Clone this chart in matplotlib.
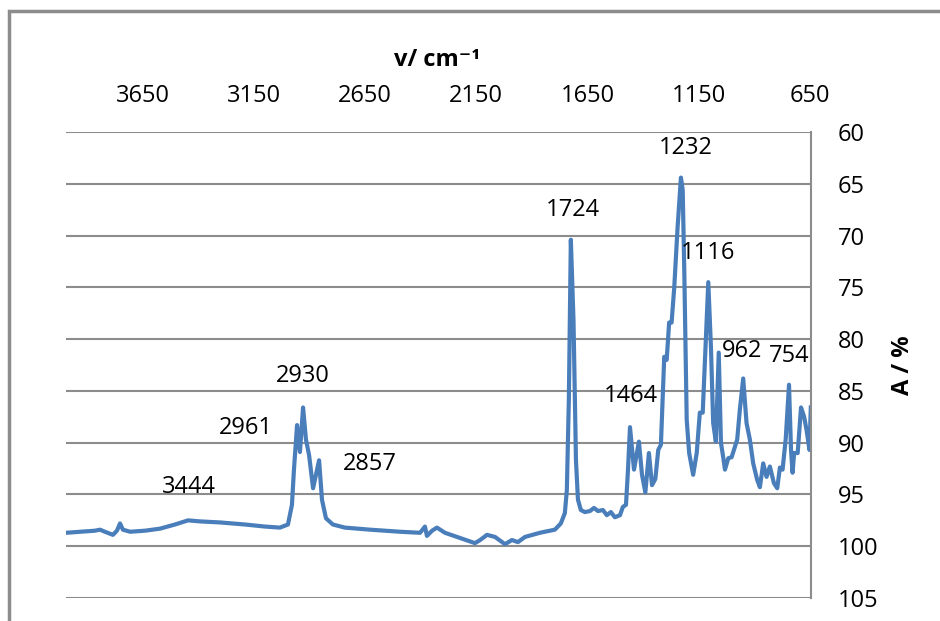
import matplotlib.pyplot as plt
from matplotlib.patches import Rectangle

plt.rcParams['font.family'] = ['Open Sans', 'DejaVu Sans']

# spectrum (wavenumber cm-1, A %)
wn = [3995, 3932, 3865, 3842, 3820, 3784, 3766, 3752, 3739, 3707,
      3640, 3572, 3505, 3446, 3393, 3303, 3190, 3100, 3033, 2997,
      2979, 2970, 2956, 2943, 2929, 2916, 2902, 2884, 2871, 2857,
      2844, 2826, 2795, 2741, 2628, 2493, 2403, 2381, 2372, 2349,
      2327, 2291, 2224, 2156, 2133, 2102, 2066, 2021, 1990, 1963,
      1931, 1864, 1797, 1770, 1752, 1743, 1734, 1725, 1713, 1702,
      1693, 1680, 1662, 1639, 1621, 1603, 1581, 1563, 1545, 1527,
      1504, 1491, 1477, 1468, 1459, 1441, 1419, 1405, 1390, 1374,
      1360, 1345, 1332, 1320, 1305, 1294, 1283, 1272, 1260, 1245,
      1230, 1222, 1215, 1204, 1193, 1175, 1159, 1145, 1132, 1122,
      1107, 1095, 1085, 1073, 1060, 1050, 1040, 1032, 1017, 1002,
      987, 977, 965, 950, 935, 920, 905, 887, 875, 860,
      845, 830, 812, 797, 785, 773, 759, 744, 735, 728,
      721, 705, 690, 676, 665, 652, 646]
absorb = [98.7, 98.6, 98.5, 98.4, 98.6, 98.9, 98.5, 97.8, 98.4, 98.6,
          98.5, 98.3, 97.9, 97.5, 97.6, 97.7, 97.9, 98.1, 98.2, 97.9,
          96.0, 92.6, 88.3, 90.9, 86.6, 89.7, 91.2, 94.4, 93.1, 91.7,
          95.5, 97.3, 97.9, 98.2, 98.4, 98.6, 98.7, 98.1, 99.0, 98.5,
          98.2, 98.7, 99.2, 99.7, 99.4, 98.9, 99.1, 99.8, 99.4, 99.6,
          99.1, 98.7, 98.4, 97.8, 96.8, 94.6, 85.9, 70.4, 78.2, 91.7,
          95.5, 96.5, 96.7, 96.6, 96.3, 96.6, 96.5, 97.0, 96.7, 97.2,
          97.0, 96.2, 96.0, 92.6, 88.5, 92.6, 89.9, 93.1, 94.8, 91.0,
          94.1, 93.5, 90.7, 90.2, 81.7, 82.0, 78.4, 78.4, 75.0, 69.2,
          64.4, 65.6, 73.3, 87.8, 91.0, 93.1, 91.0, 87.1, 87.1, 82.0,
          74.5, 80.8, 88.1, 89.9, 81.3, 90.0, 91.4, 92.6, 91.5, 91.4,
          90.4, 89.7, 86.8, 83.8, 88.1, 89.7, 92.0, 93.6, 94.3, 92.0,
          93.3, 92.3, 93.9, 94.4, 92.4, 92.6, 89.7, 84.4, 90.7, 92.9,
          91.0, 91.0, 86.6, 87.5, 88.8, 90.7, 86.6]

peak_labels = ['1232', '1724', '1116', '962', '754', '1464', '2930', '2961', '2857', '3444']
label_x = [1207, 1716, 1109, 956, 744, 1455, 2929, 3186, 2628, 3442]
label_y = [61.5, 67.5, 71.7, 81.1, 81.6, 85.5, 83.6, 88.6, 92.1, 94.3]

xticks = [3650, 3150, 2650, 2150, 1650, 1150, 650]
yticks = [60, 65, 70, 75, 80, 85, 90, 95, 100, 105]

fig = plt.figure(figsize=(9.4, 6.21), dpi=100)
ax = fig.add_axes([0.0702, 0.037, 0.7926, 0.7504])

ax.plot(wn, absorb, color='#4a7ebb', lw=3, solid_joinstyle='round')

for t, x, y in zip(peak_labels, label_x, label_y):
    ax.text(x, y, t, ha='center', va='center', fontsize=17)

ax.set_xlim(3995, 645)
ax.set_ylim(105, 60)
ax.set_xticks(xticks)
ax.set_yticks(yticks)
ax.xaxis.tick_top()
ax.yaxis.tick_right()
ax.tick_params(axis='both', length=0, labelsize=17)
ax.tick_params(axis='x', pad=17)
ax.tick_params(axis='y', pad=19)
for lab in ax.get_yticklabels():
    lab.set_horizontalalignment('left')

ax.grid(axis='y', color='#8c8c8c', lw=1.5)
ax.set_axisbelow(True)
for s in ['left', 'top', 'bottom']:
    ax.spines[s].set_visible(False)
ax.spines['right'].set_color('#8c8c8c')
ax.spines['right'].set_linewidth(1.5)

fig.text(437 / 940, 1 - 60 / 621, 'v/ cm\u207b\u00b9', ha='center', va='center',
         fontsize=17, fontweight='bold')
fig.text(903 / 940, 1 - 365 / 621, 'A / %', ha='center', va='center',
         fontsize=17, fontweight='bold', rotation=90)

# grey frame on the left and top
fig.add_artist(Rectangle((8.5 / 940, -0.1), 1.2, 1.1 - 10.5 / 621, transform=fig.transFigure,
                         fill=False, edgecolor='#8c8c8c', lw=2.5))

fig.savefig('out.png', dpi=100)
